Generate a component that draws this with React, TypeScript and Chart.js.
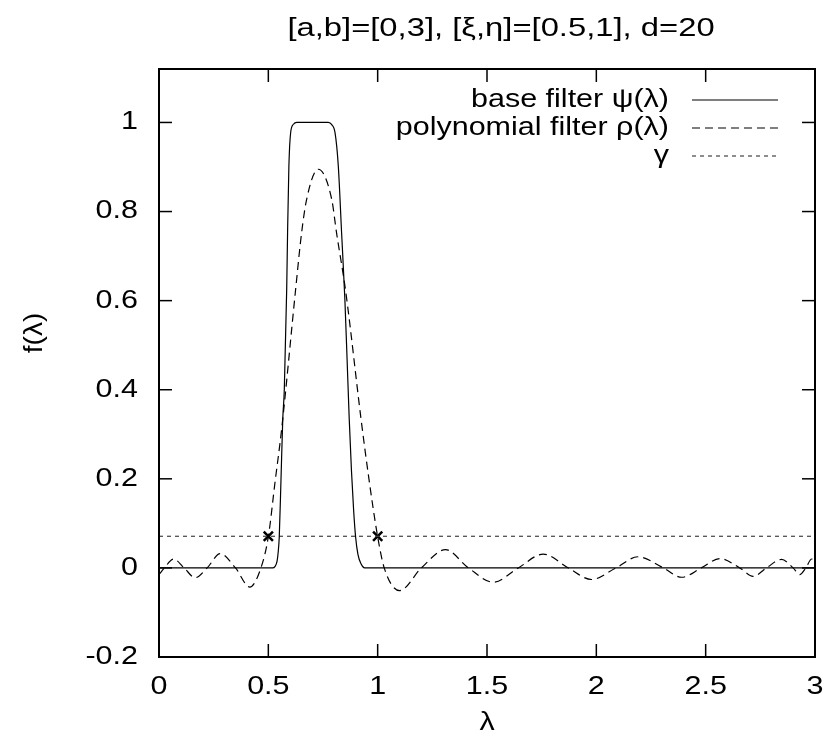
import React, { useEffect, useRef } from "react";
import { Chart, registerables } from "chart.js";

Chart.register(...registerables);

const titleText = "[a,b]=[0,3], [ξ,η]=[0.5,1], d=20";
const xLabel = "λ";
const yLabel = "f(λ)";
const legendLabels = ["base filter ψ(λ)", "polynomial filter ρ(λ)", "γ"];

const xTicks = [0, 0.5, 1, 1.5, 2, 2.5, 3];
const yTicks = [-0.2, 0, 0.2, 0.4, 0.6, 0.8, 1];

// base filter psi(lambda)
const psiLambda = [
  0, 0.52, 0.53, 0.54, 0.545, 0.55, 0.558, 0.566, 0.573, 0.584, 0.588, 0.594,
  0.602, 0.615, 0.63, 0.774, 0.79, 0.805, 0.82, 0.835, 0.85, 0.86, 0.87, 0.88,
  0.89, 0.899, 0.91, 0.925, 0.94, 3,
];
const psiValues = [
  0, 0, 0.003, 0.015, 0.035, 0.07, 0.2, 0.334, 0.4, 0.626, 0.753, 0.902,
  0.977, 0.996, 1, 1, 0.995, 0.977, 0.902, 0.753, 0.603, 0.47, 0.334, 0.22,
  0.13, 0.07, 0.03, 0.008, 0, 0,
];

// polynomial filter rho(lambda)
const rhoLambda = [
  0, 0.025, 0.066, 0.115, 0.165, 0.22, 0.28, 0.35, 0.415, 0.466, 0.5, 0.53,
  0.561, 0.625, 0.652, 0.675, 0.728, 0.79, 0.812, 0.854, 0.924, 0.96, 1.0,
  1.03, 1.1, 1.2, 1.31, 1.415, 1.529, 1.643, 1.757, 1.872, 1.978, 2.09, 2.19,
  2.307, 2.39, 2.48, 2.565, 2.656, 2.717, 2.778, 2.847, 2.9, 2.93, 2.958,
  2.985, 3.0,
];
const rhoValues = [
  -0.015, 0, 0.02, 0, -0.022, 0, 0.032, 0, -0.043, 0, 0.07, 0.19, 0.312,
  0.626, 0.752, 0.827, 0.895, 0.827, 0.752, 0.62, 0.334, 0.2, 0.07, 0,
  -0.051, 0, 0.041, 0, -0.032, 0, 0.031, 0, -0.026, 0, 0.025, 0, -0.021, 0,
  0.021, 0, -0.019, 0, 0.019, 0, -0.015, 0, 0.02, 0.015,
];

// threshold gamma
const gammaLambda = [0, 3];
const gammaValue = 0.071;
// intersection marks
const markLambda = [0.5, 1];

const FONT = '"Liberation Sans", Arial, Helvetica, sans-serif';
const FONT_SIZE = 25;
const STRETCH = 1.22;

const RHO_DASH = [8, 5];
const GAMMA_DASH = [4, 4];

const fmt = (v: number) => String(Number(v.toFixed(1)));

function drawText(
  ctx: CanvasRenderingContext2D,
  text: string,
  x: number,
  y: number,
  align: CanvasTextAlign,
  sx = STRETCH
) {
  ctx.save();
  ctx.translate(x, y);
  ctx.scale(sx, 1);
  ctx.textAlign = align;
  ctx.textBaseline = "middle";
  ctx.fillText(text, 0, 0);
  ctx.restore();
}

const framePlugin = {
  id: "frame",
  afterDatasetsDraw(chart: any) {
    const { ctx, chartArea: a, scales } = chart;
    ctx.save();
    // frame
    ctx.strokeStyle = "#000";
    ctx.lineWidth = 2;
    ctx.setLineDash([]);
    ctx.strokeRect(a.left, a.top, a.right - a.left, a.bottom - a.top);
    // inward ticks, mirrored
    ctx.lineWidth = 1.5;
    const L = 13;
    const seg = (x1: number, y1: number, x2: number, y2: number) => {
      ctx.beginPath();
      ctx.moveTo(x1, y1);
      ctx.lineTo(x2, y2);
      ctx.stroke();
    };
    ctx.font = `${FONT_SIZE}px ${FONT}`;
    ctx.fillStyle = "#000";
    for (const t of scales.x.ticks) {
      const x = scales.x.getPixelForValue(t.value);
      seg(x, a.bottom, x, a.bottom - L);
      seg(x, a.top, x, a.top + L);
      drawText(ctx, fmt(t.value), x, a.bottom + 30, "center");
    }
    for (const t of scales.y.ticks) {
      const y = scales.y.getPixelForValue(t.value);
      seg(a.left, y, a.left + L, y);
      seg(a.right, y, a.right - L, y);
      drawText(ctx, fmt(t.value), a.left - 21, y, "right");
    }

    // legend
    const rows = [100, 128, 156];
    const styles = [
      { dash: [] as number[], color: "#000", w: 1.2 },
      { dash: RHO_DASH, color: "#000", w: 1.2 },
      { dash: GAMMA_DASH, color: "#444", w: 1.2 },
    ];
    legendLabels.forEach((t, i) => {
      drawText(ctx, t, 669, rows[i], "right");
      ctx.strokeStyle = styles[i].color;
      ctx.lineWidth = styles[i].w;
      ctx.setLineDash(styles[i].dash);
      seg(692, rows[i], 778, rows[i]);
    });
    ctx.setLineDash([]);

    // title
    ctx.font = `26px ${FONT}`;
    drawText(ctx, titleText, 501, 29, "center", 1.26);
    ctx.font = `${FONT_SIZE}px ${FONT}`;
    // x label
    drawText(ctx, xLabel, 487, 723, "center");
    // y label
    ctx.save();
    ctx.translate(35, 333);
    ctx.rotate(-Math.PI / 2);
    drawText(ctx, yLabel, 0, 0, "center", 1.12);
    ctx.restore();

    ctx.restore();
  },
};

export default function App() {
  const ref = useRef<HTMLCanvasElement | null>(null);

  useEffect(() => {
    document.body.style.margin = "0";
    const canvas = ref.current;
    if (!canvas) return;

    const psiData = psiLambda.map((x, i) => ({ x, y: psiValues[i] }));
    const rhoData = rhoLambda.map((x, i) => ({ x, y: rhoValues[i] }));
    const gammaData = gammaLambda.map((x) => ({ x, y: gammaValue }));
    const markData = markLambda.map((x) => ({ x, y: gammaValue }));

    const chart = new Chart(canvas, {
      type: "line",
      data: {
        datasets: [
          {
            label: legendLabels[0],
            data: psiData,
            borderColor: "#000",
            borderWidth: 1.2,
            pointRadius: 0,
            cubicInterpolationMode: "monotone",
            fill: false,
          },
          {
            label: legendLabels[1],
            data: rhoData,
            borderColor: "#000",
            borderWidth: 1.2,
            borderDash: RHO_DASH,
            pointRadius: 0,
            cubicInterpolationMode: "monotone",
            fill: false,
          },
          {
            label: legendLabels[2],
            data: gammaData,
            borderColor: "#444",
            borderWidth: 1.2,
            borderDash: GAMMA_DASH,
            pointRadius: 0,
            fill: false,
          },
          {
            label: "marks",
            data: markData,
            showLine: false,
            pointStyle: "crossRot",
            pointRadius: 6.5,
            pointBorderWidth: 2.5,
            pointBorderColor: "#000",
            pointBackgroundColor: "#000",
          },
        ],
      } as any,
      options: {
        responsive: false,
        animation: false,
        devicePixelRatio: 1,
        layout: { padding: { top: 69, right: 19, left: 0, bottom: 0 } },
        plugins: {
          legend: { display: false },
          tooltip: { enabled: false },
          title: { display: false },
        },
        scales: {
          x: {
            type: "linear",
            min: 0,
            max: 3,
            grid: { display: false, drawTicks: false },
            border: { display: false },
            afterBuildTicks: (s: any) => {
              s.ticks = xTicks.map((v) => ({ value: v }));
            },
            afterFit: (s: any) => {
              s.height = 90;
            },
            ticks: { display: false },
          },
          y: {
            type: "linear",
            min: -0.2,
            max: 1.12,
            grid: { display: false, drawTicks: false },
            border: { display: false },
            afterBuildTicks: (s: any) => {
              s.ticks = yTicks.map((v) => ({ value: v }));
            },
            afterFit: (s: any) => {
              s.width = 159;
            },
            ticks: { display: false },
          },
        },
      } as any,
      plugins: [framePlugin],
    });

    return () => chart.destroy();
  }, []);

  return (
    <div style={{ width: 834, height: 747, background: "#fff" }}>
      <canvas
        ref={ref}
        width={834}
        height={747}
        style={{ width: 834, height: 747, display: "block" }}
      />
    </div>
  );
}
